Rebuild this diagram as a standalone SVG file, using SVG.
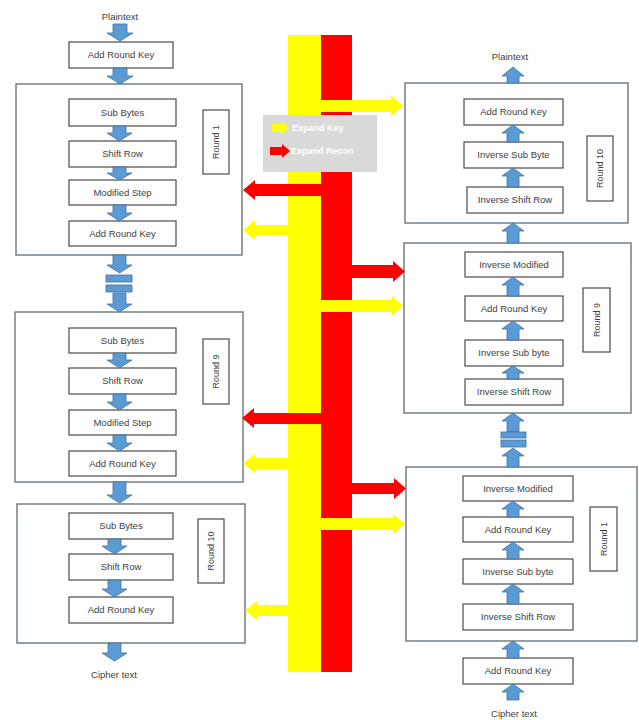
<svg xmlns="http://www.w3.org/2000/svg" width="639" height="720" viewBox="0 0 639 720">
<style>
.bg{fill:#ffffff}
.outer{fill:#ffffff;stroke:#5f6b76;stroke-width:1.3}
.box{fill:#ffffff;stroke:#4a4a4a;stroke-width:1.2}
.t{font-family:"Liberation Sans",Arial,sans-serif;font-size:9.5px;fill:#404040;text-anchor:middle}
.lbl{font-family:"Liberation Sans",Arial,sans-serif;font-size:9px;fill:#404040;text-anchor:middle}
.blue{fill:#5b9bd5;stroke:#41719c;stroke-width:0.8}
.yel{fill:#ffff00}
.red{fill:#ff0000}
.leg{font-family:"Liberation Sans",Arial,sans-serif;font-size:9px;font-weight:bold;fill:#ffffff}
</style>
<rect class="bg" x="0" y="0" width="639" height="720"/>

<!-- Left encryption column -->
<g id="enc-plaintext"><text class="t" x="120" y="20">Plaintext</text></g>
<g id="enc-ark0"><rect class="box" x="69" y="42" width="104" height="26"/><text class="t" x="121" y="58">Add Round Key</text></g>

<g id="enc-round1">
<rect class="outer" x="16" y="84" width="226" height="171"/>
<rect class="box" x="69" y="99" width="107" height="27"/><text class="t" x="122.5" y="116">Sub Bytes</text>
<rect class="box" x="69" y="141" width="107" height="26"/><text class="t" x="122.5" y="157">Shift Row</text>
<rect class="box" x="69" y="180" width="107" height="25"/><text class="t" x="122.5" y="196">Modified Step</text>
<rect class="box" x="69" y="221" width="107" height="25"/><text class="t" x="122.5" y="237">Add Round Key</text>
<rect class="box" x="203" y="110" width="26" height="64"/><text class="lbl" transform="translate(219,142) rotate(-90)">Round 1</text>
</g>

<g id="enc-round9">
<rect class="outer" x="15" y="312" width="228" height="170"/>
<rect class="box" x="69" y="328" width="107" height="25"/><text class="t" x="122.5" y="344">Sub Bytes</text>
<rect class="box" x="69" y="368" width="107" height="26"/><text class="t" x="122.5" y="384">Shift Row</text>
<rect class="box" x="69" y="410" width="107" height="25"/><text class="t" x="122.5" y="426">Modified Step</text>
<rect class="box" x="69" y="451" width="107" height="25"/><text class="t" x="122.5" y="467">Add Round Key</text>
<rect class="box" x="203" y="339" width="26" height="65"/><text class="lbl" transform="translate(219,371.5) rotate(-90)">Round 9</text>
</g>

<g id="enc-round10">
<rect class="outer" x="17" y="504" width="228" height="139"/>
<rect class="box" x="69" y="513" width="104" height="26"/><text class="t" x="121" y="529">Sub Bytes</text>
<rect class="box" x="69" y="554" width="104" height="26"/><text class="t" x="121" y="570">Shift Row</text>
<rect class="box" x="69" y="597" width="104" height="26"/><text class="t" x="121" y="613">Add Round Key</text>
<rect class="box" x="198" y="519" width="26" height="64"/><text class="lbl" transform="translate(214,551) rotate(-90)">Round 10</text>
</g>
<g id="enc-ciphertext"><text class="t" x="114" y="678">Cipher text</text></g>

<!-- Right decryption column -->
<g id="dec-plaintext"><text class="t" x="510" y="60">Plaintext</text></g>
<g id="dec-round10">
<rect class="outer" x="405" y="83" width="223" height="140"/>
<rect class="box" x="464" y="99" width="99" height="26"/><text class="t" x="513.5" y="115">Add Round Key</text>
<rect class="box" x="464" y="142" width="99" height="26"/><text class="t" x="513.5" y="158">Inverse Sub Byte</text>
<rect class="box" x="467" y="187" width="96" height="26"/><text class="t" x="515" y="203">Inverse Shift Row</text>
<rect class="box" x="587" y="136" width="26" height="65"/><text class="lbl" transform="translate(603,168.5) rotate(-90)">Round 10</text>
</g>
<g id="dec-round9">
<rect class="outer" x="404" y="243" width="227" height="170"/>
<rect class="box" x="465" y="252" width="98" height="25"/><text class="t" x="514" y="268">Inverse Modified</text>
<rect class="box" x="465" y="296" width="98" height="25"/><text class="t" x="514" y="312">Add Round Key</text>
<rect class="box" x="465" y="340" width="98" height="26"/><text class="t" x="514" y="356">Inverse Sub byte</text>
<rect class="box" x="465" y="379" width="98" height="26"/><text class="t" x="514" y="395">Inverse Shift Row</text>
<rect class="box" x="583" y="288" width="27" height="64"/><text class="lbl" transform="translate(599.5,320) rotate(-90)">Round 9</text>
</g>
<g id="dec-round1">
<rect class="outer" x="406" y="467" width="231" height="174"/>
<rect class="box" x="463" y="476" width="110" height="25"/><text class="t" x="518" y="492">Inverse Modified</text>
<rect class="box" x="463" y="517" width="110" height="25"/><text class="t" x="518" y="533">Add Round Key</text>
<rect class="box" x="463" y="559" width="110" height="25"/><text class="t" x="518" y="575">Inverse Sub byte</text>
<rect class="box" x="463" y="604" width="110" height="26"/><text class="t" x="518" y="620">Inverse Shift Row</text>
<rect class="box" x="590" y="507" width="27" height="64"/><text class="lbl" transform="translate(606.5,539) rotate(-90)">Round 1</text>
</g>
<g id="dec-ark0"><rect class="box" x="463" y="658" width="110" height="26"/><text class="t" x="518" y="674">Add Round Key</text></g>
<g id="dec-ciphertext"><text class="t" x="514" y="717">Cipher text</text></g>

<!-- Key expansion bars -->
<g id="key-bars">
<rect class="yel" x="288" y="35" width="33" height="637"/>
<rect class="red" x="321" y="35" width="31" height="637"/>
</g>

<!-- Connectors -->
<g id="connectors">
<!-- left down arrows -->
<path class="blue" d="M113,24 L127,24 L127,33 L133,33 L120,41 L107,33 L113,33 Z"/>
<path class="blue" d="M113,68 L127,68 L127,76 L133,76 L120,84 L107,76 L113,76 Z"/>
<path class="blue" d="M113,126 L126,126 L126,133 L132,133 L119.5,141 L107,133 L113,133 Z"/>
<path class="blue" d="M113,167 L126,167 L126,173 L132,173 L119.5,180 L107,173 L113,173 Z"/>
<path class="blue" d="M113,205 L126,205 L126,213 L132,213 L119.5,221 L107,213 L113,213 Z"/>
<path class="blue" d="M113,255 L126,255 L126,265 L132,265 L119.5,273 L107,265 L113,265 Z"/>
<rect class="blue" x="106" y="275" width="26" height="7"/>
<rect class="blue" x="106" y="285" width="26" height="7"/>
<path class="blue" d="M113,293 L126,293 L126,304 L132,304 L119.5,312 L107,304 L113,304 Z"/>
<path class="blue" d="M113,353 L126,353 L126,360 L132,360 L119.5,368 L107,360 L113,360 Z"/>
<path class="blue" d="M113,394 L126,394 L126,402 L132,402 L119.5,410 L107,402 L113,402 Z"/>
<path class="blue" d="M113,435 L126,435 L126,443 L132,443 L119.5,451 L107,443 L113,443 Z"/>
<path class="blue" d="M113,482 L126,482 L126,495 L132,495 L119.5,503 L107,495 L113,495 Z"/>
<path class="blue" d="M108,539 L121,539 L121,546 L127,546 L114.5,554 L102,546 L108,546 Z"/>
<path class="blue" d="M108,580 L121,580 L121,589 L127,589 L114.5,597 L102,589 L108,589 Z"/>
<path class="blue" d="M108,643 L121,643 L121,653 L127,653 L114.5,661 L102,653 L108,653 Z"/>
<!-- right up arrows -->
<path class="blue" d="M507,83 L519,83 L519,76 L524,76 L513,67 L502,76 L507,76 Z"/>
<path class="blue" d="M507,142 L519,142 L519,133 L524,133 L513,125 L502,133 L507,133 Z"/>
<path class="blue" d="M507,187 L519,187 L519,176 L524,176 L513,168 L502,176 L507,176 Z"/>
<path class="blue" d="M507,243 L519,243 L519,231 L524,231 L513,223 L502,231 L507,231 Z"/>
<path class="blue" d="M507,296 L519,296 L519,285 L524,285 L513,277 L502,285 L507,285 Z"/>
<path class="blue" d="M507,340 L519,340 L519,329 L524,329 L513,321 L502,329 L507,329 Z"/>
<path class="blue" d="M507,379 L519,379 L519,373 L524,373 L513,366 L502,373 L507,373 Z"/>
<path class="blue" d="M507,432 L519,432 L519,421 L524,421 L513,413 L502,421 L507,421 Z"/>
<rect class="blue" x="501" y="432" width="25" height="6"/>
<rect class="blue" x="501" y="440" width="25" height="7"/>
<path class="blue" d="M507,467 L519,467 L519,456 L524,456 L513,448 L502,456 L507,456 Z"/>
<path class="blue" d="M507,517 L519,517 L519,509 L524,509 L513,501 L502,509 L507,509 Z"/>
<path class="blue" d="M507,559 L519,559 L519,550 L524,550 L513,542 L502,550 L507,550 Z"/>
<path class="blue" d="M507,604 L519,604 L519,592 L524,592 L513,584 L502,592 L507,592 Z"/>
<path class="blue" d="M507,658 L519,658 L519,649 L524,649 L513,641 L502,649 L507,649 Z"/>
<path class="blue" d="M507,700 L519,700 L519,692 L524,692 L513,684 L502,692 L507,692 Z"/>
<!-- key arrows to the right -->
<path class="yel" d="M320,100 L391,100 L391,95 L403,106 L391,117 L391,112 L320,112 Z"/>
<path class="red" d="M351,265 L393,265 L393,261 L405,271.5 L393,282 L393,278 L351,278 Z"/>
<path class="yel" d="M320,300 L392,300 L392,296 L403,306 L392,316 L392,312 L320,312 Z"/>
<path class="red" d="M351,483 L394,483 L394,478 L406,488.5 L394,499 L394,494 L351,494 Z"/>
<path class="yel" d="M320,518 L393,518 L393,514 L405,524 L393,534 L393,530 L320,530 Z"/>
<!-- key arrows to the left -->
<path class="red" d="M322,184 L255,184 L255,180 L243,190 L255,200 L255,196 L322,196 Z"/>
<path class="yel" d="M289,225 L255,225 L255,220 L243,230 L255,240 L255,235 L289,235 Z"/>
<path class="red" d="M322,413 L254,413 L254,408 L242,418 L254,428 L254,424 L322,424 Z"/>
<path class="yel" d="M289,458 L255,458 L255,454 L243,463.5 L255,473 L255,469 L289,469 Z"/>
<path class="yel" d="M289,605 L257,605 L257,601 L245,610.5 L257,620 L257,616 L289,616 Z"/>
</g>

<!-- Legend -->
<g id="legend">
<rect x="263" y="115" width="114" height="57" fill="#d9d9d9"/>
<path class="yel" d="M272,124 L282,124 L282,122 L289,128 L282,134 L282,132 L272,132 Z"/>
<text class="leg" x="292" y="131">Expand Key</text>
<path class="red" d="M270,147 L282,147 L282,144 L290,151 L282,158 L282,155 L270,155 Z"/>
<text class="leg" x="291" y="154">Expand Recon</text>
</g>
</svg>
